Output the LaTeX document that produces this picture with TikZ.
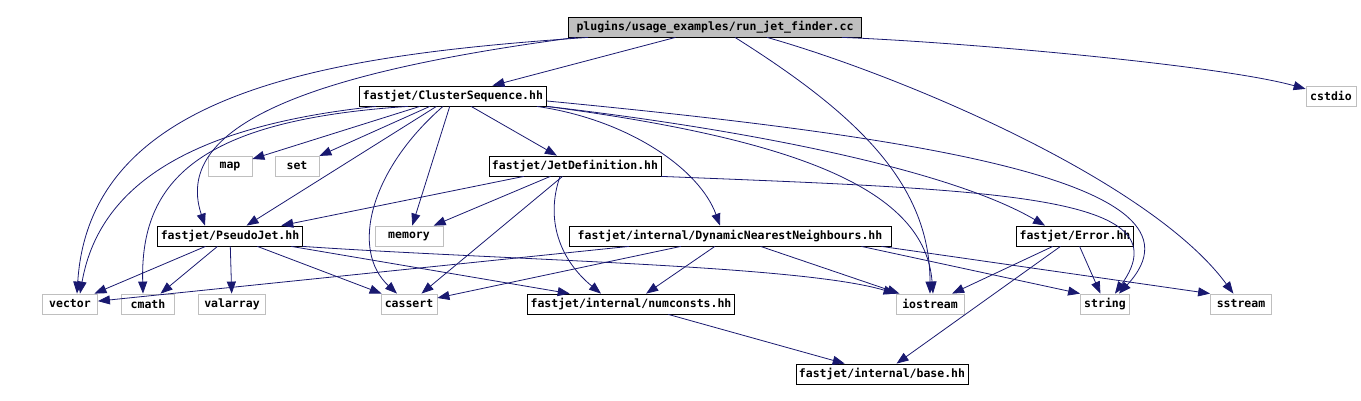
\documentclass[tikz,border=0pt]{standalone}
\usepackage{fontspec}
\setmonofont{DejaVu Sans Mono}
\usetikzlibrary{arrows.meta}
\definecolor{incl}{RGB}{25,25,112}
\definecolor{srcgray}{RGB}{191,191,191}
\tikzstyle{every file} = [font=\ttfamily\bfseries\fontsize{11.5}{13}\selectfont, minimum height=20pt, inner ysep=0pt, inner xsep=3pt, line width=0.8pt]
\tikzstyle{hdrfile} = [draw=black, fill=white, every file]
\tikzstyle{stdfile} = [draw=srcgray, fill=white, every file]
\tikzstyle{srcfile} = [draw=black, fill=srcgray, every file]
\tikzstyle{inc} = [->, draw=incl, line width=0.8pt]

\begin{document}
\begin{tikzpicture}[x=1pt, y=-1pt, >={Triangle[length=12pt,width=9pt]}]
  \useasboundingbox (0,0) rectangle (1361,401);
  % files
  \node[srcfile, minimum width=293pt] (rjf) at (715,27) {plugins/usage\_examples/run\_jet\_finder.cc};
  \node[hdrfile, minimum width=187pt] (clseq) at (453,96) {fastjet/ClusterSequence.hh};
  \node[stdfile, minimum width=50pt] (cstdio) at (1331,96) {cstdio};
  \node[stdfile, minimum width=44pt] (map) at (230,166) {map};
  \node[stdfile, minimum width=44pt] (set) at (297,166) {set};
  \node[hdrfile, minimum width=172pt] (jetdef) at (575,166) {fastjet/JetDefinition.hh};
  \node[hdrfile, minimum width=143pt] (pjet) at (230,236) {fastjet/PseudoJet.hh};
  \node[stdfile, minimum width=68pt] (memory) at (409,236) {memory};
  \node[hdrfile, minimum width=322pt] (dnn) at (730,236) {fastjet/internal/DynamicNearestNeighbours.hh};
  \node[hdrfile, minimum width=116pt] (error) at (1075,236) {fastjet/Error.hh};
  \node[stdfile, minimum width=55pt] (vector) at (70,304) {vector};
  \node[stdfile, minimum width=53pt] (cmath) at (148,304) {cmath};
  \node[stdfile, minimum width=67pt] (valarray) at (232,304) {valarray};
  \node[stdfile, minimum width=56pt] (cassert) at (409,304) {cassert};
  \node[hdrfile, minimum width=204pt] (numconsts) at (631,304) {fastjet/internal/numconsts.hh};
  \node[stdfile, minimum width=68pt] (iostream) at (930,304) {iostream};
  \node[stdfile, minimum width=49pt] (string) at (1105,304) {string};
  \node[stdfile, minimum width=61pt] (sstream) at (1241,304) {sstream};
  \node[hdrfile, minimum width=163pt] (base) at (882,374) {fastjet/internal/base.hh};

  % run_jet_finder.cc
  \draw[inc] (rjf) -- (clseq);
  \draw[inc] ([xshift=-20pt]rjf.south east) .. controls (960,42) and (1220,65) .. (cstdio);
  \draw[inc] ([xshift=20pt]rjf.south west) .. controls (330,55) and (90,90) .. ([xshift=7pt]vector.north);
  \draw[inc] ([xshift=8pt]rjf.south west) .. controls (330,70) and (170,120) .. ([xshift=-25pt]pjet.north);
  \draw[inc] ([xshift=20pt]rjf.south) .. controls (850,110) and (930,180) .. (iostream);
  \draw[inc] ([xshift=52pt]rjf.south) .. controls (900,75) and (1150,180) .. (sstream);

  % ClusterSequence.hh
  \draw[inc] (clseq) -- (map);
  \draw[inc] (clseq) -- (set);
  \draw[inc] (clseq) -- (jetdef);
  \draw[inc] (clseq) -- (pjet);
  \draw[inc] (clseq) -- (memory);
  \draw[inc] ([xshift=-10pt]clseq.south) .. controls (370,170) and (350,250) .. ([xshift=-12pt]cassert.north);
  \draw[inc] ([xshift=17pt]clseq.south west) .. controls (200,125) and (100,180) .. ([xshift=10pt]vector.north);
  \draw[inc] ([xshift=49pt]clseq.south west) .. controls (200,120) and (140,180) .. ([xshift=-5pt]cmath.north);
  \draw[inc] ([xshift=-10pt]clseq.south east) .. controls (630,120) and (700,170) .. ([xshift=-10pt]dnn.north);
  \draw[inc] (clseq.south east) .. controls (800,140) and (925,190) .. ([xshift=3pt]iostream.north);
  \draw[inc] (clseq.south east) .. controls (750,130) and (950,170) .. ([xshift=-30pt]error.north);
  \draw[inc] ([yshift=-5pt]clseq.east) .. controls (900,135) and (1225,180) .. ([xshift=14pt]string.north);

  % JetDefinition.hh
  \draw[inc] (jetdef) -- (pjet);
  \draw[inc] (jetdef) -- (memory);
  \draw[inc] (jetdef) -- (cassert);
  \draw[inc] ([xshift=-15pt]jetdef.south) .. controls (545,220) and (560,260) .. ([xshift=-30pt]numconsts.north);
  \draw[inc] (jetdef.south east) .. controls (1000,190) and (1185,195) .. ([xshift=10pt]string.north);

  % PseudoJet.hh
  \draw[inc] (pjet) -- (vector);
  \draw[inc] (pjet) -- (cmath);
  \draw[inc] (pjet) -- (valarray);
  \draw[inc] (pjet) -- (cassert);
  \draw[inc] (pjet) -- (numconsts);
  \draw[inc] (pjet.south east) .. controls (500,260) and (800,265) .. (iostream.north west);

  % DynamicNearestNeighbours.hh
  \draw[inc] (dnn) -- (vector);
  \draw[inc] (dnn) -- (cassert);
  \draw[inc] (dnn) -- (numconsts);
  \draw[inc] (dnn) -- (iostream);
  \draw[inc] ([xshift=-30pt]dnn.south east) -- (string.north west);
  \draw[inc] ([xshift=-10pt]dnn.south east) -- (sstream.north west);

  % Error.hh, numconsts.hh
  \draw[inc] (error) -- (iostream);
  \draw[inc] (error) -- (string);
  \draw[inc] (error) -- (base);
  \draw[inc] (numconsts) -- (base);
\end{tikzpicture}
\end{document}
